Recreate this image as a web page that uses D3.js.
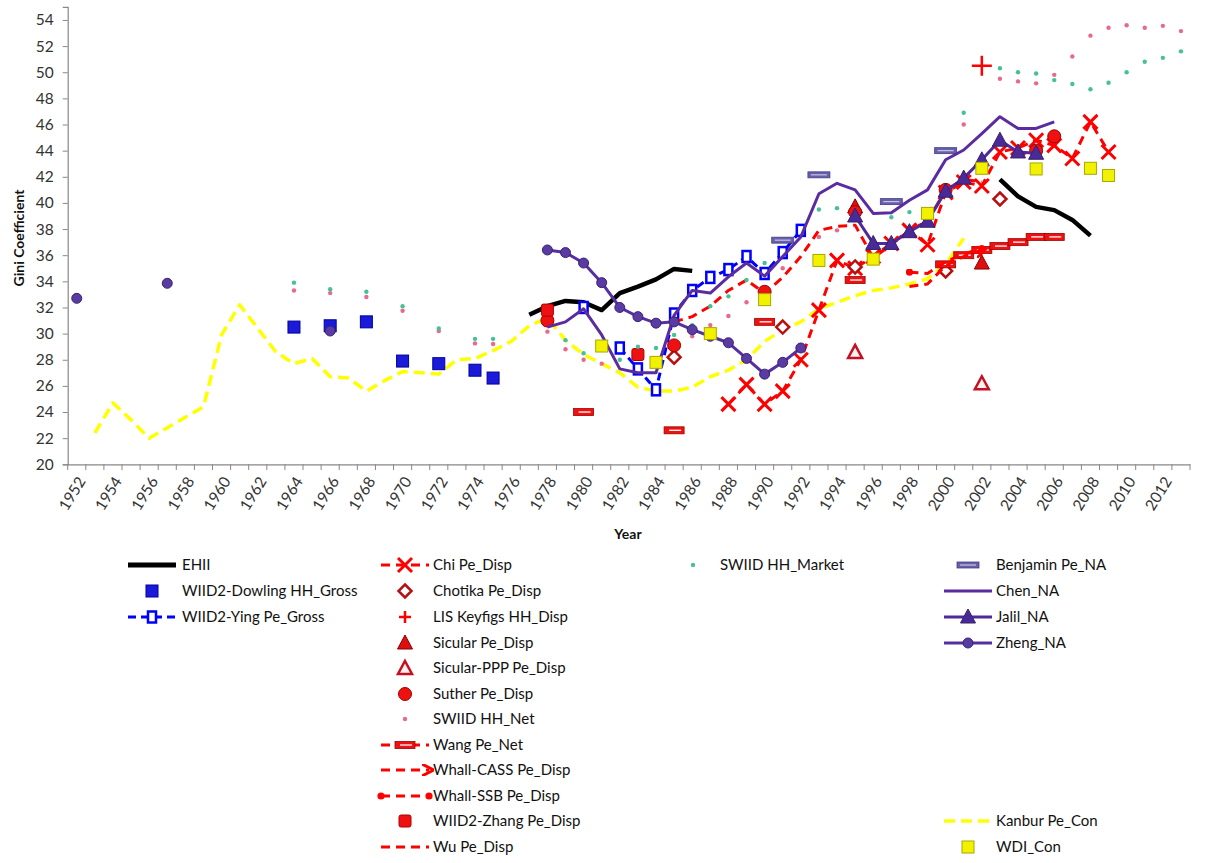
<!DOCTYPE html>
<html><head><meta charset="utf-8">
<script src="https://cdn.jsdelivr.net/npm/d3@7"></script>
<style>body{margin:0;background:#fff}svg{display:block}text{font-family:Lato,'Open Sans',sans-serif}</style>
</head><body><svg id="c" width="1212" height="863"></svg>
<script>
// ---------- DATA ----------
const years = [1952,1953,1954,1955,1956,1957,1958,1959,1960,1961,1962,1963,1964,1965,1966,1967,1968,1969,1970,1971,1972,1973,1974,1975,1976,1977,1978,1979,1980,1981,1982,1983,1984,1985,1986,1987,1988,1989,1990,1991,1992,1993,1994,1995,1996,1997,1998,1999,2000,2001,2002,2003,2004,2005,2006,2007,2008,2009,2010,2011,2012,2013];
const yTicks = [20,22,24,26,28,30,32,34,36,38,40,42,44,46,48,50,52,54];

const ehii = [[1977,31.45],[1978,32.1],[1979,32.5],[1980,32.4],[1981,31.8],[1982,33.1],[1983,33.6],[1984,34.15],[1985,34.95],[1986,34.8],
  [2003,41.8],[2004,40.5],[2005,39.7],[2006,39.45],[2007,38.7],[2008,37.5]];
const dowling = [[1964,30.5],[1966,30.6],[1968,30.9],[1970,27.9],[1972,27.7],[1974,27.2],[1975,26.6]];
const ying = [[1980,32.0],[1982,28.9],[1983,27.3],[1984,25.7],[1985,31.5],[1986,33.3],[1987,34.3],[1988,34.9],[1989,35.9],[1990,34.6],[1991,36.2],[1992,37.9]];
const chi = [[1988,24.6],[1989,26.1],[1990,24.6],[1991,25.6],[1992,28.0],[1993,31.8],[1994,35.6],[1995,35.0],[1996,35.9],[1997,36.9],[1998,37.9],[1999,36.8],[2000,40.8],[2001,41.6],[2002,41.3],[2003,43.9],[2004,44.2],[2005,44.8],[2006,44.4],[2007,43.4],[2008,46.2],[2009,43.9]];
const chotika = [[1985,28.2],[1991,30.5],[1995,35.1],[2000,34.8],[2003,40.3]];
const lis = [[2002,50.5]];
const sicular = [[1995,39.7],[2002,35.4]];
const sicularPPP = [[1995,28.6],[2002,26.2]];
const suther = [[1978,31.0],[1985,29.1],[1990,33.2],[1995,39.3],[2000,41.0],[2005,44.0],[2006,45.1]];
const swiidNet = [[1964,33.3],[1966,33.1],[1968,32.8],[1970,31.75],[1972,30.2],[1974,29.25],[1975,29.2],[1978,30.15],[1979,28.8],[1980,28.0],[1981,27.7],[1986,29.8],[1987,30.65],[1988,31.35],[1989,32.4],[1991,35.0],[1993,37.4],[1994,37.9],[2001,46.0],[2003,49.5],[2004,49.3],[2005,49.15],[2006,49.8],[2007,51.2],[2008,52.8],[2009,53.4],[2010,53.6],[2011,53.4],[2012,53.55],[2013,53.15]];
const wang = [[1980,24.0],[1985,22.6],[1990,30.9],[1995,34.1],[2000,35.3],[2001,36.0],[2002,36.4],[2003,36.7],[2004,37.0],[2005,37.4],[2006,37.4]];
const whallCASS = [[1998,33.6],[1999,33.8],[2000,35.2],[2001,35.9],[2002,36.4]];
const whallSSB = [[1998,34.7],[1999,34.6],[2000,35.5],[2001,36.1],[2002,36.5]];
const zhang = [[1978,31.8],[1983,28.4]];
const wu = [[1985,30.9],[1986,31.3],[1987,32.1],[1988,33.3],[1989,34.1],[1990,33.1],[1991,34.3],[1992,35.9],[1993,37.9],[1994,38.2],[1995,38.3],[1996,35.8],[1997,36.8],[1998,37.9],[1999,38.6],[2000,41.0],[2001,41.8],[2002,41.6]];
const swiidMarket = [[1964,33.9],[1966,33.4],[1968,33.2],[1970,32.1],[1972,30.4],[1974,29.6],[1975,29.6],[1979,29.5],[1980,28.5],[1982,28.0],[1983,29.0],[1984,28.9],[1985,29.9],[1986,30.65],[1987,32.1],[1988,32.85],[1989,34.1],[1990,35.4],[1993,39.5],[1994,39.6],[1997,38.9],[1998,39.3],[2001,46.9],[2003,50.3],[2004,50.0],[2005,49.9],[2006,49.4],[2007,49.1],[2008,48.7],[2009,49.2],[2010,50.0],[2011,50.8],[2012,51.1],[2013,51.6]];
const benjamin = [[1991,37.15],[1993,42.15],[1997,40.1],[2000,44.0]];
const chen = [[1978,30.5],[1979,30.9],[1980,31.9],[1981,29.9],[1982,27.3],[1983,27.0],[1984,27.0],[1985,31.4],[1986,33.3],[1987,33.1],[1988,34.35],[1989,35.4],[1990,34.4],[1991,35.9],[1992,37.4],[1993,40.7],[1994,41.5],[1995,41.0],[1996,39.2],[1997,39.25],[1998,40.2],[1999,41.0],[2000,43.3],[2001,44.05],[2002,45.3],[2003,46.6],[2004,45.7],[2005,45.7],[2006,46.2]];
const jalil = [[1995,39.0],[1996,36.9],[1997,36.9],[1998,37.8],[1999,38.6],[2000,40.9],[2001,41.9],[2002,43.3],[2003,44.8],[2004,43.9],[2005,43.8]];
const zheng = [[1952,32.7],[1957,33.85],[1966,30.2],[1978,36.4],[1979,36.2],[1980,35.4],[1981,33.9],[1982,32.0],[1983,31.3],[1984,30.8],[1985,30.9],[1986,30.3],[1987,29.8],[1988,29.3],[1989,28.1],[1990,26.9],[1991,27.8],[1992,28.9]];
const kanbur = [[1953,22.4],[1954,24.7],[1955,23.4],[1956,22.0],[1957,22.8],[1958,23.6],[1959,24.4],[1960,29.9],[1961,32.2],[1962,30.4],[1963,28.6],[1964,27.7],[1965,28.1],[1966,26.7],[1967,26.6],[1968,25.6],[1969,26.4],[1970,27.1],[1971,27.0],[1972,26.9],[1973,28.0],[1974,28.1],[1975,28.7],[1976,29.4],[1977,30.6],[1978,31.2],[1979,29.5],[1980,28.4],[1981,27.7],[1982,27.0],[1983,25.9],[1984,25.6],[1985,25.6],[1986,25.9],[1987,26.7],[1988,27.2],[1989,28.0],[1990,29.4],[1991,30.3],[1992,30.9],[1993,31.9],[1994,32.4],[1995,32.9],[1996,33.3],[1997,33.5],[1998,33.8],[1999,34.2],[2000,35.3],[2001,37.3]];
const wdi = [[1981,29.05],[1984,27.8],[1987,30.0],[1990,32.6],[1993,35.6],[1996,35.7],[1999,39.2],[2002,42.65],[2005,42.6],[2008,42.65],[2009,42.1]];

// ---------- SCALES ----------
const svg = d3.select('#c');
const x = d3.scaleBand().domain(years).range([67.7,1190]).padding(0);
const cx = yr => x(yr) + x.bandwidth()/2;
const y = d3.scaleLinear().domain([20,55]).range([464.3,6.9]);

const RED='#ff0000', DRED='#a00000', BLUE='#0000ff', PURP='#5b2c9f', YEL='#ffff00';

// ---------- AXES ----------
const yAx = svg.append('g').attr('transform','translate(67.7,0)')
  .call(d3.axisLeft(y).tickValues(yTicks).tickSize(5).tickPadding(9));
yAx.select('.domain').attr('stroke','#888').attr('stroke-width',1.2);
yAx.selectAll('.tick line').attr('stroke','#888');
yAx.selectAll('.tick text').attr('fill','#333').style('font-size','15.5px').style('font-family','Lato');

const xAx = svg.append('g').attr('transform','translate(0,464.3)')
  .call(d3.axisBottom(x).tickSize(0).tickFormat(d => d%2===0 ? d : ''));
xAx.select('.domain').attr('stroke','#888').attr('stroke-width',1.2);
xAx.selectAll('.tick text').attr('fill','#333').style('font-size','15.5px').style('font-family','Lato')
  .attr('text-anchor','end').attr('dy','0.35em')
  .attr('transform','translate(5,14) rotate(-58)').attr('y',0).attr('x',0);
// category boundary tick marks
svg.append('g').selectAll('line').data(years.concat(['end'])).enter().append('line')
  .attr('x1', d => d==='end' ? x.range()[1] : x(d)).attr('x2', d => d==='end' ? x.range()[1] : x(d))
  .attr('y1',464.3).attr('y2',470).attr('stroke','#888');

svg.append('text').attr('transform','translate(24,238) rotate(-90)').attr('text-anchor','middle')
  .style('font-weight','bold').style('font-size','14px').attr('fill','#111').text('Gini Coefficient');
svg.append('text').attr('x',628).attr('y',539).attr('text-anchor','middle')
  .style('font-weight','bold').style('font-size','14px').attr('fill','#111').text('Year');

// ---------- HELPERS ----------
const defs = svg.append('defs');
defs.append('marker').attr('id','arrow').attr('viewBox','0 0 10 10').attr('refX',6).attr('refY',5)
  .attr('markerWidth',4).attr('markerHeight',4).attr('orient','auto').attr('markerUnits','strokeWidth')
  .append('path').attr('d','M0,0L10,5L0,10').attr('fill','none').attr('stroke',RED).attr('stroke-width',2.5);
defs.append('marker').attr('id','rdot').attr('viewBox','0 0 10 10').attr('refX',5).attr('refY',5)
  .attr('markerWidth',2.4).attr('markerHeight',2.4).attr('markerUnits','strokeWidth')
  .append('circle').attr('cx',5).attr('cy',5).attr('r',5).attr('fill',RED);

function segments(data){
  const out=[]; let cur=[];
  data.forEach((d,i)=>{ if(i>0 && d[0]-data[i-1][0]>1){ out.push(cur); cur=[]; } cur.push(d); });
  if(cur.length) out.push(cur); return out.filter(s=>s.length>1);
}
const lineGen = d3.line().x(d=>cx(d[0])).y(d=>y(d[1]));
const plot = svg.append('g');
function drawLine(data, stroke, width, dash, extra){
  segments(data).forEach(s=>{
    const p = plot.append('path').attr('d',lineGen(s)).attr('fill','none').attr('stroke',stroke)
      .attr('stroke-width',width).attr('stroke-linejoin','round');
    if(dash) p.attr('stroke-dasharray',dash);
    if(extra) extra(p);
  });
}
function shape(g, type, px, py){
  switch(type){
    case 'square': return g.append('rect').attr('x',px-6).attr('y',py-6).attr('width',12).attr('height',12).attr('fill','#1a1ad8').attr('stroke','#0000a0').attr('stroke-width',1);
    case 'zhang': return g.append('rect').attr('x',px-6).attr('y',py-6).attr('width',12).attr('height',12).attr('rx',2).attr('fill','#ee1111').attr('stroke','#b00000').attr('stroke-width',1);
    case 'ying': return g.append('rect').attr('x',px-4).attr('y',py-5.5).attr('width',8).attr('height',11).attr('fill','#fff').attr('stroke',BLUE).attr('stroke-width',2.5);
    case 'x': return g.append('path').attr('d',`M${px-7},${py-7}L${px+7},${py+7}M${px-7},${py+7}L${px+7},${py-7}`).attr('stroke',RED).attr('stroke-width',3).attr('fill','none');
    case 'diamond': return g.append('path').attr('d',`M${px},${py-6.5}L${px+6.5},${py}L${px},${py+6.5}L${px-6.5},${py}Z`).attr('fill','#fff').attr('stroke','#b81010').attr('stroke-width',2.5);
    case 'plus': return g.append('path').attr('d',`M${px-10},${py}H${px+10}M${px},${py-10}V${py+10}`).attr('stroke',RED).attr('stroke-width',2.5);
    case 'plusS': return g.append('path').attr('d',`M${px-6},${py}H${px+6}M${px},${py-6}V${py+6}`).attr('stroke',RED).attr('stroke-width',2.5);
    case 'tri': return g.append('path').attr('d',`M${px},${py-8}L${px+7.5},${py+6}L${px-7.5},${py+6}Z`).attr('fill','#dd1010').attr('stroke','#8b0000').attr('stroke-width',1);
    case 'triO': return g.append('path').attr('d',`M${px},${py-7}L${px+7},${py+6}L${px-7},${py+6}Z`).attr('fill','#fff0f0').attr('stroke','#c41020').attr('stroke-width',2.5);
    case 'circle': return g.append('circle').attr('cx',px).attr('cy',py).attr('r',6.5).attr('fill','#ee1111').attr('stroke','#a00000').attr('stroke-width',1);
    case 'net': return g.append('circle').attr('cx',px).attr('cy',py).attr('r',2.2).attr('fill','#e86a88');
    case 'mkt': return g.append('circle').attr('cx',px).attr('cy',py).attr('r',2.2).attr('fill','#48c096');
    case 'bar': { const gg=g.append('g'); gg.append('rect').attr('x',px-10).attr('y',py-3.5).attr('width',20).attr('height',7).attr('fill','#ee1111').attr('stroke','#a00000').attr('stroke-width',0.8);
      gg.append('line').attr('x1',px-5).attr('x2',px+7).attr('y1',py).attr('y2',py).attr('stroke','#fff').attr('stroke-width',1.3); return gg; }
    case 'bbar': { const gg=g.append('g'); gg.append('rect').attr('x',px-11).attr('y',py-3).attr('width',22).attr('height',6).attr('fill','#6560a8').attr('stroke','#463c88').attr('stroke-width',0.8);
      gg.append('line').attr('x1',px-8).attr('x2',px+8).attr('y1',py).attr('y2',py).attr('stroke','#c8c4e8').attr('stroke-width',1.2); return gg; }
    case 'ptri': return g.append('path').attr('d',`M${px},${py-8}L${px+7.5},${py+6}L${px-7.5},${py+6}Z`).attr('fill','#4a2a96').attr('stroke','#35206e').attr('stroke-width',1);
    case 'pcirc': return g.append('circle').attr('cx',px).attr('cy',py).attr('r',5).attr('fill','#5a3aa3').attr('stroke','#3a2270').attr('stroke-width',1);
    case 'wdi': return g.append('rect').attr('x',px-6).attr('y',py-6).attr('width',12).attr('height',12).attr('fill','#f2f200').attr('stroke','#a8a800').attr('stroke-width',1);
  }
}
function drawMarkers(data, type){ data.forEach(d=>shape(plot, type, cx(d[0]), y(d[1]))); }

// ---------- SERIES ----------
drawLine(kanbur, YEL, 3.5, '11,6');
drawLine(ehii, '#000', 4.5);
drawMarkers(dowling,'square');
drawLine(ying, BLUE, 3, '8,5'); drawMarkers(ying,'ying');
drawLine(wu, RED, 3, '9,6');
drawLine(chi, RED, 3, '9,6'); drawMarkers(chi,'x');
drawMarkers(chotika,'diamond');
drawMarkers(lis,'plus');
drawMarkers(sicular,'tri');
drawMarkers(sicularPPP,'triO');
drawMarkers(suther,'circle');
drawMarkers(swiidNet,'net');
drawLine(wang, RED, 3, '9,6'); drawMarkers(wang,'bar');
drawLine(whallCASS, RED, 3, '9,6', p=>p.attr('marker-end','url(#arrow)'));
drawLine(whallSSB, RED, 3, '9,6', p=>p.attr('marker-start','url(#rdot)').attr('marker-end','url(#rdot)'));
drawMarkers(zhang,'zhang');
drawMarkers(swiidMarket,'mkt');
drawMarkers(benjamin,'bbar');
drawLine(chen, PURP, 3);
drawLine(jalil, '#4e2a9a', 3); drawMarkers(jalil,'ptri');
drawLine(zheng, '#55309e', 3); drawMarkers(zheng,'pcirc');
drawMarkers(wdi,'wdi');

// ---------- LEGEND ----------
const legRows = [565,591,617,643,668,694,719,745,770,796,821,847];
const legCols = [{sx:152,tx:182},{sx:405,tx:433},{sx:693,tx:720},{sx:968,tx:996}];
const legend = [
  {c:0,r:0,t:'EHII',line:['#000',5,null]},
  {c:0,r:1,t:'WIID2-Dowling HH_Gross',m:'square'},
  {c:0,r:2,t:'WIID2-Ying Pe_Gross',line:[BLUE,3,'8,5'],m:'ying'},
  {c:1,r:0,t:'Chi Pe_Disp',line:[RED,3,'9,6'],m:'x'},
  {c:1,r:1,t:'Chotika Pe_Disp',m:'diamond'},
  {c:1,r:2,t:'LIS Keyfigs HH_Disp',m:'plusS'},
  {c:1,r:3,t:'Sicular Pe_Disp',m:'tri'},
  {c:1,r:4,t:'Sicular-PPP Pe_Disp',m:'triO'},
  {c:1,r:5,t:'Suther Pe_Disp',m:'circle'},
  {c:1,r:6,t:'SWIID HH_Net',m:'net'},
  {c:1,r:7,t:'Wang Pe_Net',line:[RED,3,'9,6'],m:'bar'},
  {c:1,r:8,t:'Whall-CASS Pe_Disp',line:[RED,3,'9,6'],arrow:true},
  {c:1,r:9,t:'Whall-SSB Pe_Disp',line:[RED,3,'9,6'],dots:true},
  {c:1,r:10,t:'WIID2-Zhang Pe_Disp',m:'zhang'},
  {c:1,r:11,t:'Wu Pe_Disp',line:[RED,3,'9,6']},
  {c:2,r:0,t:'SWIID HH_Market',m:'mkt'},
  {c:3,r:0,t:'Benjamin Pe_NA',m:'bbar'},
  {c:3,r:1,t:'Chen_NA',line:[PURP,3,null]},
  {c:3,r:2,t:'Jalil_NA',line:['#4e2a9a',3,null],m:'ptri'},
  {c:3,r:3,t:'Zheng_NA',line:['#55309e',3,null],m:'pcirc'},
  {c:3,r:10,t:'Kanbur Pe_Con',line:[YEL,3.5,'11,6']},
  {c:3,r:11,t:'WDI_Con',m:'wdi'}
];
const lg = svg.append('g');
legend.forEach(it=>{
  const col=legCols[it.c], ry=legRows[it.r];
  if(it.line){
    const l=lg.append('line').attr('x1',col.sx-24).attr('x2',col.sx+24).attr('y1',ry).attr('y2',ry)
      .attr('stroke',it.line[0]).attr('stroke-width',it.line[1]);
    if(it.line[2]) l.attr('stroke-dasharray',it.line[2]);
    if(it.arrow) l.attr('marker-end','url(#arrow)');
    if(it.dots) l.attr('marker-start','url(#rdot)').attr('marker-end','url(#rdot)');
  }
  if(it.m) shape(lg,it.m,col.sx,ry);
  lg.append('text').attr('x',col.tx).attr('y',ry).attr('dy','0.35em').style('font-size','15px').attr('fill','#111').text(it.t);
});
</script></body></html>
